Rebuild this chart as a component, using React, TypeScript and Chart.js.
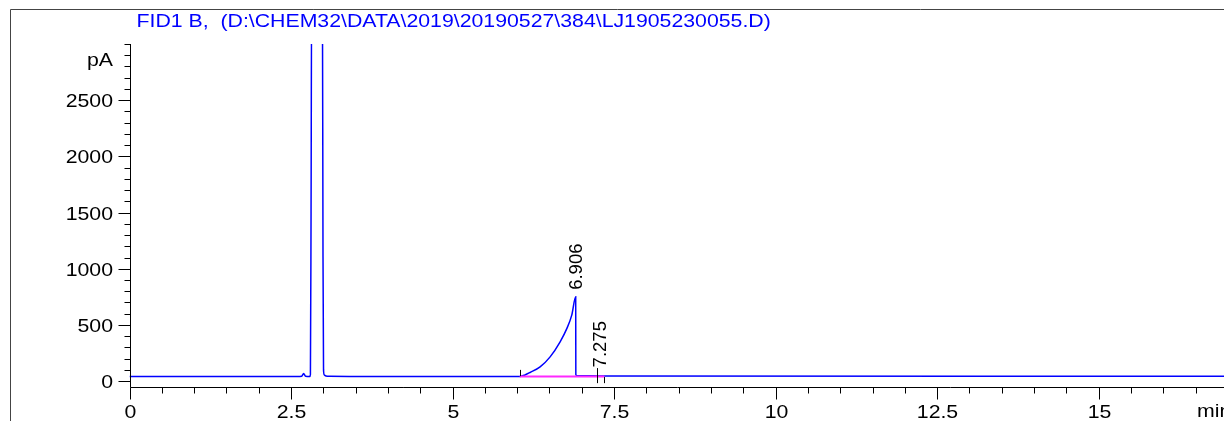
import React, { useEffect, useRef } from "react";
import { Chart, registerables } from "chart.js";

Chart.register(...registerables);

// ---- data ----
const titleText = "FID1 B,  (D:\\CHEM32\\DATA\\2019\\20190527\\384\\LJ1905230055.D)";
const yUnitLabel = "pA";
const xUnitLabel = "min";

const signalTimes = [
  0, 2.6, 2.665, 2.695, 2.725, 2.79, 2.8, 2.81, 2.82, 2.985, 2.995, 3.003,
  3.015, 3.04, 3.1, 3.4, 6.04, 6.12, 6.2, 6.355, 6.51, 6.665, 6.77, 6.845,
  6.906, 6.908, 6.93, 7.3, 16.94,
];
const signalValues = [
  42, 42, 44, 67, 44, 42, 60, 1500, 3600, 3600, 1100, 100,
  55, 46, 43, 42, 42, 55, 77, 127, 216, 350, 469, 587,
  750, 60, 48, 46, 44,
];

const integrationTimes = [6.04, 7.35];
const integrationValues = [40, 40];

const peakTimes = [6.906, 7.275];
const peakLabels = ["6.906", "7.275"];
const peakLabelLevels = [750, 60];

const markTimes = [6.04, 7.23, 7.35];
const markTops = [100, 116, 36];
const markBottoms = [44, -18, -18];

const xTickValues = [0, 2.5, 5, 7.5, 10, 12.5, 15];
const xTickLabels = ["0", "2.5", "5", "7.5", "10", "12.5", "15"];
const xMinorStep = 0.5;
const yTickValues = [0, 500, 1000, 1500, 2000, 2500];
const yTickLabels = ["0", "500", "1000", "1500", "2000", "2500"];
const yMinorStep = 100;

const xMin = 0;
const xMax = 16.94;
const yMin = -55;
const yMax = 3000;

const FONT = "18.5px 'Liberation Sans', Arial, sans-serif";
const SX = 1.15;

function drawText(
  ctx: CanvasRenderingContext2D,
  text: string,
  x: number,
  y: number,
  align: CanvasTextAlign,
  color: string
) {
  ctx.save();
  ctx.translate(x, y);
  ctx.scale(SX, 1);
  ctx.font = FONT;
  ctx.fillStyle = color;
  ctx.textAlign = align;
  ctx.textBaseline = "alphabetic";
  ctx.fillText(text, 0, 0);
  ctx.restore();
}

const decorPlugin = {
  id: "decor",
  afterDatasetsDraw(chart: any) {
    const ctx: CanvasRenderingContext2D = chart.ctx;
    const xs = chart.scales.x;
    const ys = chart.scales.y;
    const area = chart.chartArea;
    const W = chart.width;
    const H = chart.height;

    ctx.save();
    // frame
    ctx.strokeStyle = "#444";
    ctx.lineWidth = 1;
    ctx.beginPath();
    ctx.moveTo(10.5, H);
    ctx.lineTo(10.5, 9.5);
    ctx.lineTo(W, 9.5);
    ctx.stroke();

    // title
    drawText(ctx, titleText, 136.5, 26.5, "left", "#0000ff");

    // axes
    ctx.strokeStyle = "#000";
    ctx.lineWidth = 1;
    const ax = Math.round(area.left) + 0.5;
    const ay = Math.round(area.bottom) + 0.5;
    ctx.beginPath();
    ctx.moveTo(ax, Math.round(area.top));
    ctx.lineTo(ax, ay);
    ctx.lineTo(W, ay);
    ctx.stroke();

    // y ticks
    for (let v = yMinorStep; v <= yMax; v += yMinorStep) {
      if (yTickValues.includes(v)) continue;
      const py = Math.round(ys.getPixelForValue(v)) + 0.5;
      ctx.beginPath();
      ctx.moveTo(ax - 6, py);
      ctx.lineTo(ax, py);
      ctx.stroke();
    }
    yTickValues.forEach((v, i) => {
      const py = Math.round(ys.getPixelForValue(v)) + 0.5;
      ctx.beginPath();
      ctx.moveTo(ax - 12, py);
      ctx.lineTo(ax, py);
      ctx.stroke();
      drawText(ctx, yTickLabels[i], ax - 17.5, py + 6.6, "right", "#000");
    });
    drawText(ctx, yUnitLabel, ax - 17.5, 66, "right", "#000");

    // x ticks
    for (let v = xMinorStep; v <= xMax; v += xMinorStep) {
      const r = Math.round(v * 100) / 100;
      if (xTickValues.includes(r)) continue;
      const px = Math.round(xs.getPixelForValue(r)) + 0.5;
      ctx.beginPath();
      ctx.moveTo(px, ay);
      ctx.lineTo(px, ay + 6);
      ctx.stroke();
    }
    xTickValues.forEach((v, i) => {
      const px = Math.round(xs.getPixelForValue(v)) + 0.5;
      ctx.beginPath();
      ctx.moveTo(px, ay);
      ctx.lineTo(px, ay + 12);
      ctx.stroke();
      drawText(ctx, xTickLabels[i], px, 417.5, "center", "#000");
    });
    drawText(ctx, xUnitLabel, 1197, 417, "left", "#000");

    // integration marks
    markTimes.forEach((t, i) => {
      const px = Math.round(xs.getPixelForValue(t)) + 0.5;
      ctx.beginPath();
      ctx.moveTo(px, ys.getPixelForValue(markTops[i]));
      ctx.lineTo(px, ys.getPixelForValue(markBottoms[i]));
      ctx.stroke();
    });

    // peak labels (rotated)
    peakTimes.forEach((t, i) => {
      const px = xs.getPixelForValue(t);
      const py = ys.getPixelForValue(peakLabelLevels[i]);
      ctx.save();
      ctx.translate(px + 6.6, py - 7);
      ctx.rotate(-Math.PI / 2);
      ctx.font = FONT;
      ctx.fillStyle = "#000";
      ctx.textAlign = "left";
      ctx.textBaseline = "alphabetic";
      ctx.fillText(peakLabels[i], 0, 0);
      ctx.restore();
    });
    ctx.restore();
  },
};

export default function App() {
  const ref = useRef<HTMLCanvasElement | null>(null);
  useEffect(() => {
    if (!ref.current) return;
    const chart = new Chart(ref.current, {
      type: "line",
      data: {
        datasets: [
          {
            data: integrationTimes.map((t, i) => ({ x: t, y: integrationValues[i] })),
            borderColor: "rgb(255,40,255)",
            borderWidth: 2,
            pointRadius: 0,
            tension: 0,
            order: 0,
          },
          {
            data: signalTimes.map((t, i) => ({ x: t, y: signalValues[i] })),
            borderColor: "rgb(0,0,255)",
            borderWidth: 1.5,
            pointRadius: 0,
            cubicInterpolationMode: "monotone",
            order: 1,
          },
        ],
      },
      options: {
        responsive: false,
        animation: false,
        devicePixelRatio: 1,
        layout: { padding: { left: 129.5, top: 44, right: 0, bottom: 33.7 } },
        scales: {
          x: { type: "linear", display: false, min: xMin, max: xMax },
          y: { type: "linear", display: false, min: yMin, max: yMax },
        },
        plugins: { legend: { display: false }, tooltip: { enabled: false } },
        events: [],
      },
      plugins: [decorPlugin],
    } as any);
    return () => chart.destroy();
  }, []);
  return (
    <div style={{ position: "absolute", left: 0, top: 0, width: 1224, height: 421, background: "#fff", overflow: "hidden" }}>
      <canvas ref={ref} width={1224} height={421} style={{ display: "block" }} />
    </div>
  );
}
